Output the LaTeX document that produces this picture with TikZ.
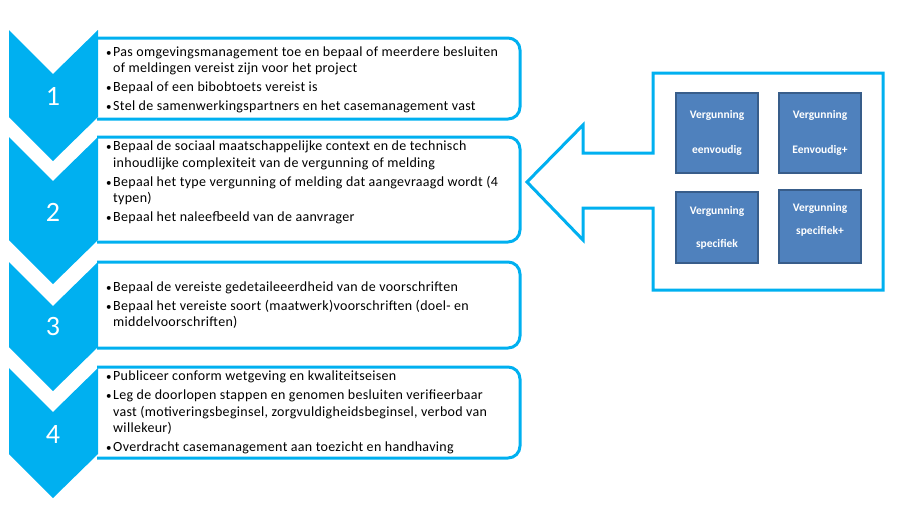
\documentclass[tikz,border=0pt]{standalone}
\usepackage{fontspec}
\setmainfont{Carlito}
\newfontfamily\stepfont{Carlito}[LetterSpace=2.2]
\definecolor{stepcyan}{HTML}{00B0F0}
\definecolor{vergblue}{HTML}{4F81BD}
\definecolor{vergedge}{HTML}{385D8A}

\begin{document}
\begin{tikzpicture}[x=1pt,y=-1pt]
    \tikzstyle{stepbox}=[draw=stepcyan, line width=3pt, rounded corners=12pt]
    \tikzstyle{chevron}=[fill=stepcyan]
    \tikzstyle{stepnum}=[text=white, font=\fontsize{28}{30}\selectfont]
    \tikzstyle{steptext}=[anchor=west, align=left, inner sep=0pt,
        font=\stepfont\fontsize{14}{16.5}\selectfont]
    \tikzstyle{typearrow}=[draw=stepcyan, line width=3pt, fill=white]
    \tikzstyle{verg}=[fill=vergblue, draw=vergedge, line width=1.5pt,
        minimum width=82pt, minimum height=80pt, align=center,
        text=white, font=\bfseries\fontsize{11.5}{13}\selectfont]

    \newcommand{\chev}[2]{\fill[chevron] (9,#1) -- (53,{#1+44}) -- (98,#1)
        -- (98,#2) -- (53,{#2+44}) -- (9,#2) -- cycle;}
    \newcommand{\bl}{{\fontsize{11}{11}\selectfont\textbullet}\hspace{1.5pt}}
    \newcommand{\ind}{\phantom{\bl}}

    \useasboundingbox (0,0) rectangle (911,525);

    % text boxes
    \draw[stepbox] (97,38) -- (520,38) -- (520,119) -- (97,119);
    \draw[stepbox] (97,137) -- (520,137) -- (520,242) -- (97,242);
    \draw[stepbox] (97,262) -- (520,262) -- (520,348) -- (97,348);
    \draw[stepbox] (97,367) -- (520,367) -- (520,458) -- (97,458);

    % chevrons
    \chev{30}{117}
    \chev{137}{240}
    \chev{262}{347}
    \chev{368}{454}

    \node[stepnum] (n1) at (53,96) {1};
    \node[stepnum] (n2) at (53,212) {2};
    \node[stepnum] (n3) at (53,327) {3};
    \node[stepnum] (n4) at (53,435) {4};

    \node[steptext] (t1) at (106,80) {\bl Pas omgevingsmanagement toe en bepaal of meerdere besluiten\\
        \ind of meldingen vereist zijn voor het project\\[2.5pt]
        \bl Bepaal of een bibobtoets vereist is\\[2.5pt]
        \bl Stel de samenwerkingspartners en het casemanagement vast};
    \node[steptext] (t2) at (106,182.5) {\bl Bepaal de sociaal maatschappelijke context en de technisch\\
        \ind inhoudlijke complexiteit van de vergunning of melding\\[2.5pt]
        \bl Bepaal het type vergunning of melding dat aangevraagd wordt (4\\
        \ind typen)\\[2.5pt]
        \bl Bepaal het naleefbeeld van de aanvrager};
    \node[steptext] (t3) at (106,305) {\bl Bepaal de vereiste gedetaileeerdheid van de voorschriften\\[2.5pt]
        \bl Bepaal het vereiste soort (maatwerk)voorschriften (doel- en\\
        \ind middelvoorschriften)};
    \node[steptext] (t4) at (106,412.5) {\bl Publiceer conform wetgeving en kwaliteitseisen\\[2.5pt]
        \bl Leg de doorlopen stappen en genomen besluiten verifieerbaar\\
        \ind vast (motiveringsbeginsel, zorgvuldigheidsbeginsel, verbod van\\
        \ind willekeur)\\[2.5pt]
        \bl Overdracht casemanagement aan toezicht en handhaving};

    % arrow with the four types
    \draw[typearrow] (653,153) -- (653,73) -- (883,73) -- (883,290) -- (653,290)
        -- (653,208) -- (583,208) -- (583,240) -- (527,182) -- (583,125)
        -- (583,153) -- cycle;

    \node[verg] (v1) at (717,133) {Vergunning\\[22pt]eenvoudig};
    \node[verg] (v2) at (820,133) {Vergunning\\[22pt]Eenvoudig+};
    \node[verg, minimum height=71pt] (v3) at (717,227.5) {Vergunning\\[20pt]specifiek};
    \node[verg, minimum height=73pt] (v4) at (820,226.5) {Vergunning\\[10pt]specifiek+\\[3pt]\mbox{}};
\end{tikzpicture}
\end{document}
